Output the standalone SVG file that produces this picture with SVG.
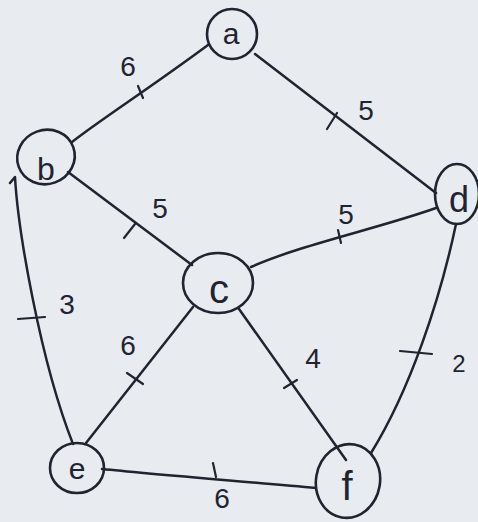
<svg xmlns="http://www.w3.org/2000/svg" width="478" height="522" viewBox="0 0 478 522">
<style>
.bg{fill:#e8ebf0}
.edge{fill:none;stroke:#1f2430;stroke-width:2.5;stroke-linecap:round;stroke-linejoin:round}
.tick{fill:none;stroke:#1f2430;stroke-width:2.2;stroke-linecap:round}
.node ellipse{fill:none;stroke:#1f2430;stroke-width:2.6}
.node text{font-family:"Liberation Sans","DejaVu Sans",sans-serif;fill:#1f2430;text-anchor:middle}
.w{font-family:"Liberation Sans","DejaVu Sans",sans-serif;fill:#1f2430;text-anchor:middle;font-size:28px}
</style>
<rect class="bg" width="478" height="522"/>
<g id="connectors">
  <path class="edge" d="M72,142 C100,120 150,88 208,45"/>
  <path class="tick" d="M138,86 L143,98"/>
  <path class="edge" d="M255,54 L436,193"/>
  <path class="tick" d="M327,129 L337,113"/>
  <path class="edge" d="M68,172 L192,265"/>
  <path class="tick" d="M124,238 L135,224"/>
  <path class="edge" d="M251,267 C300,245 380,228 436,208"/>
  <path class="tick" d="M338,230 L341,243"/>
  <path class="edge" d="M10,183 L15,177 C18,230 40,360 73,444"/>
  <path class="tick" d="M18,319 L45,317"/>
  <path class="edge" d="M193,307 L86,443"/>
  <path class="tick" d="M127,373 L143,384"/>
  <path class="edge" d="M239,309 L346,460"/>
  <path class="tick" d="M284,388 L297,380"/>
  <path class="edge" d="M456,224 C440,300 410,390 371,453"/>
  <path class="tick" d="M400,351 L432,354"/>
  <path class="edge" d="M102,469 C150,474 250,482 316,488"/>
  <path class="tick" d="M213,463 L216,477"/>
</g>
<g id="weights">
  <text class="w" x="128" y="76">6</text>
  <text class="w" x="366" y="120">5</text>
  <text class="w" x="160" y="218">5</text>
  <text class="w" x="346" y="224">5</text>
  <text class="w" x="67" y="314">3</text>
  <text class="w" x="128" y="355">6</text>
  <text class="w" x="313" y="368">4</text>
  <text class="w" x="459" y="372" style="font-size:24px">2</text>
  <text class="w" x="222" y="508">6</text>
</g>
<g id="node-a" class="node">
  <ellipse cx="232" cy="34" rx="25" ry="25"/>
  <text x="231" y="44" font-size="30">a</text>
</g>
<g id="node-b" class="node">
  <ellipse cx="46" cy="157" rx="29" ry="27" transform="rotate(-20 46 157)"/>
  <text x="46" y="180" font-size="32">b</text>
</g>
<g id="node-c" class="node">
  <ellipse cx="218" cy="283" rx="35" ry="30"/>
  <text x="219" y="303" font-size="40">c</text>
</g>
<g id="node-d" class="node">
  <ellipse cx="457" cy="194" rx="22" ry="30"/>
  <text x="459" y="212" font-size="36">d</text>
</g>
<g id="node-e" class="node">
  <ellipse cx="77" cy="468" rx="27" ry="25"/>
  <text x="77" y="479" font-size="30">e</text>
</g>
<g id="node-f" class="node">
  <ellipse cx="348" cy="481" rx="32" ry="37" transform="rotate(10 348 481)"/>
  <text x="347" y="500" font-size="40">f</text>
</g>
</svg>
